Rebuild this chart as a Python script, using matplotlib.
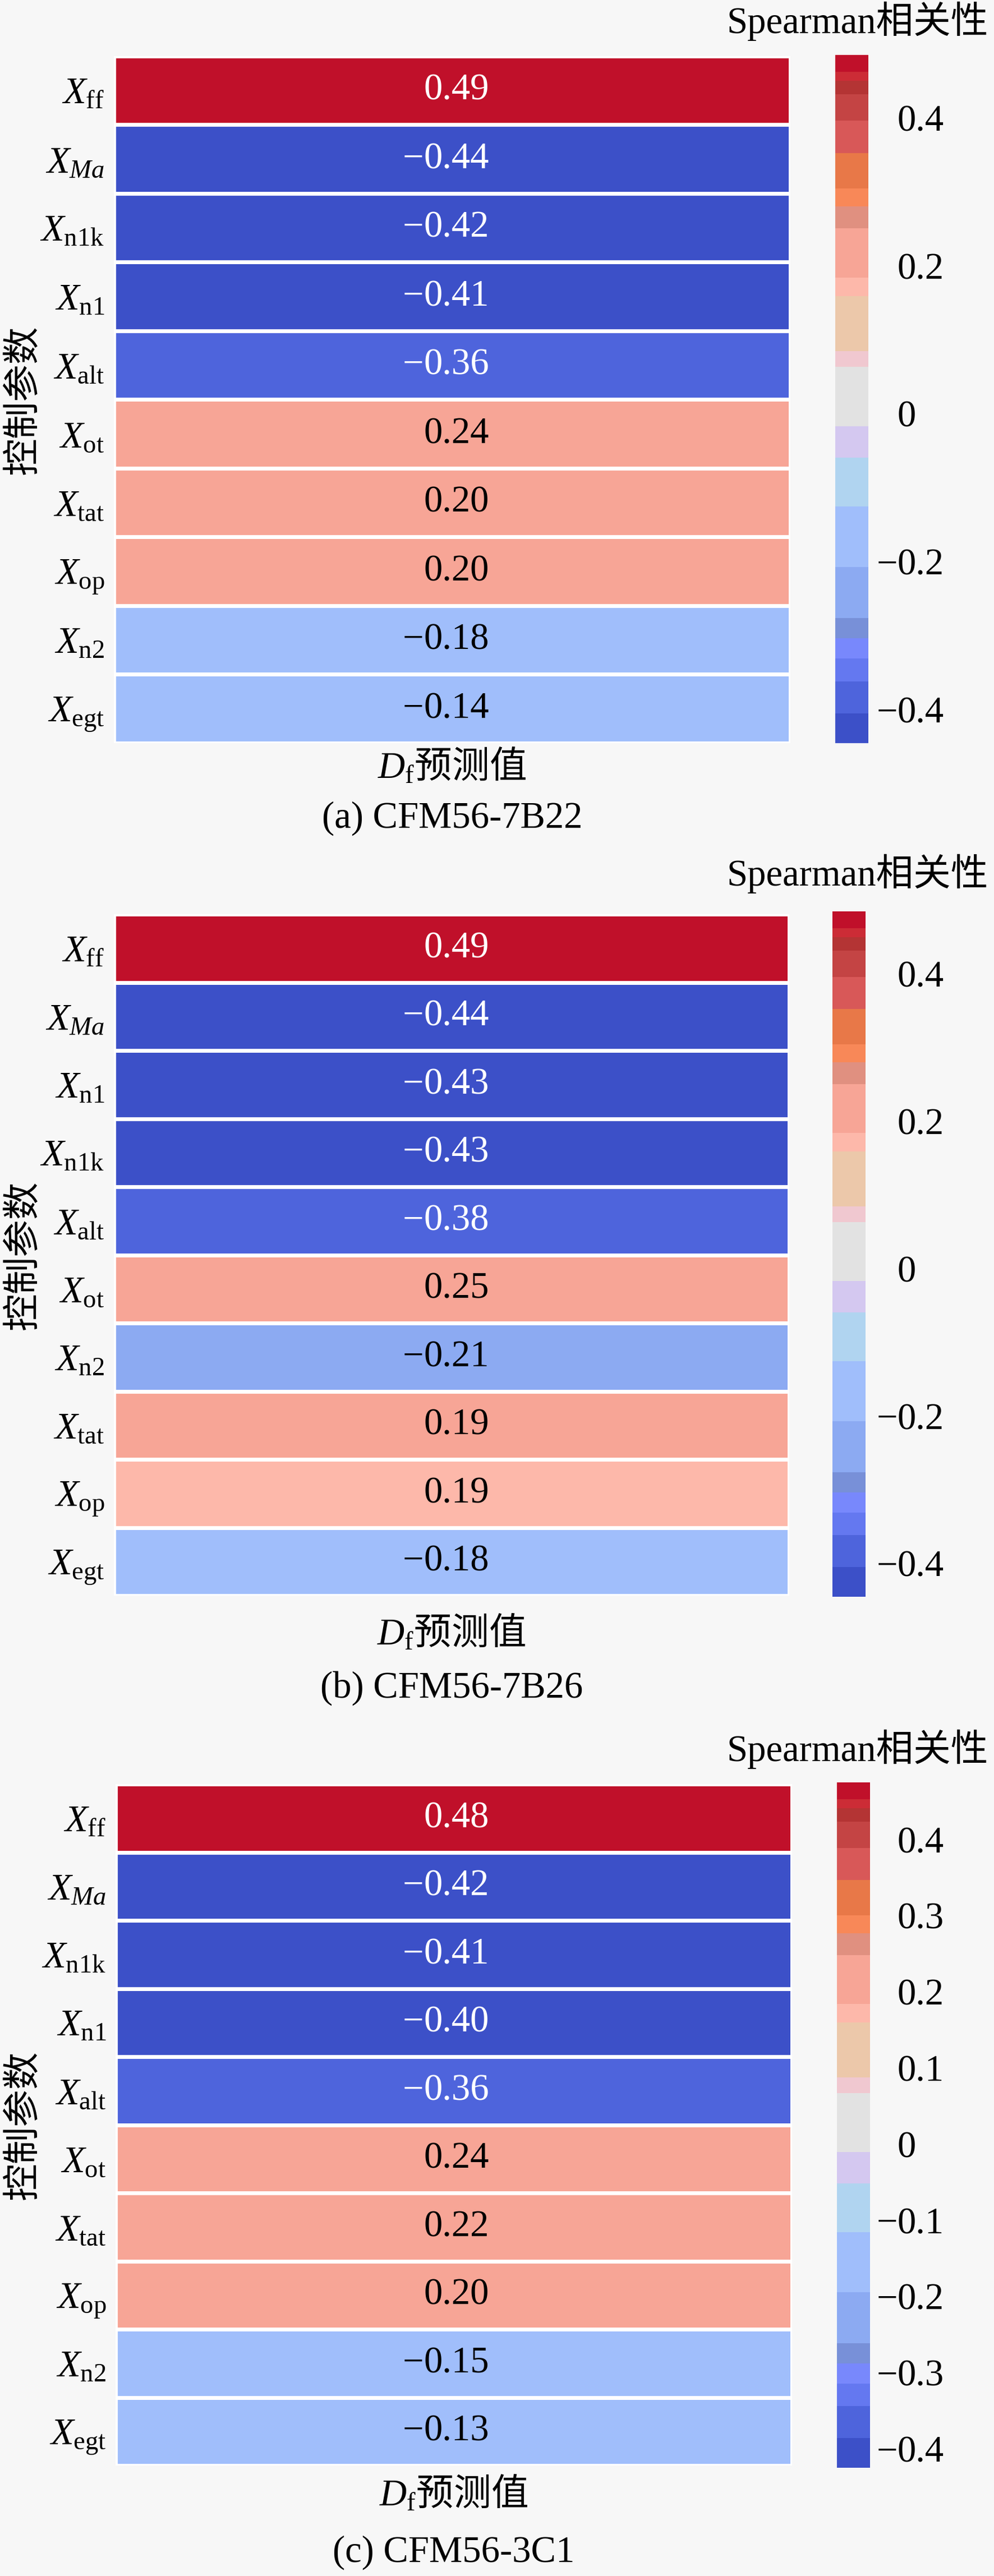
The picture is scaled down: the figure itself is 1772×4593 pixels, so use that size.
import matplotlib
matplotlib.use("Agg")
import matplotlib.pyplot as plt
import numpy as np
from matplotlib.colors import ListedColormap, to_rgb
from matplotlib.transforms import blended_transform_factory

# fonts: Times-like serif for latin, CJK for Chinese
plt.rcParams['font.family'] = ['Liberation Serif', 'Noto Sans CJK SC']
plt.rcParams['mathtext.fontset'] = 'custom'
plt.rcParams['mathtext.rm'] = 'Liberation Serif'
plt.rcParams['mathtext.it'] = 'Liberation Serif:italic'

# data
labels_a = ['ff', 'Ma', 'n1k', 'n1', 'alt', 'ot', 'tat', 'op', 'n2', 'egt']
values_a = [0.49, -0.44, -0.42, -0.41, -0.36, 0.24, 0.20, 0.20, -0.18, -0.14]

labels_b = ['ff', 'Ma', 'n1', 'n1k', 'alt', 'ot', 'n2', 'tat', 'op', 'egt']
values_b = [0.49, -0.44, -0.43, -0.43, -0.38, 0.25, -0.21, 0.194, 0.186, -0.18]

labels_c = ['ff', 'Ma', 'n1k', 'n1', 'alt', 'ot', 'tat', 'op', 'n2', 'egt']
values_c = [0.48, -0.42, -0.41, -0.40, -0.36, 0.24, 0.22, 0.20, -0.15, -0.13]

captions = ['(a) CFM56-7B22', '(b) CFM56-7B26', '(c) CFM56-3C1']
cbar_ticks_a = [-0.4, -0.2, 0, 0.2, 0.4]
cbar_ticks_b = [-0.4, -0.2, 0, 0.2, 0.4]
cbar_ticks_c = [-0.4, -0.3, -0.2, -0.1, 0, 0.1, 0.2, 0.3, 0.4]

W, H = 1772, 4593
FS = 48
BG = '#f7f7f7'

# stepped coolwarm-like palette, as it appears in the colour bar (top -> bottom, px)
block_edges = [98, 128, 144, 168, 215, 273, 336, 368, 407, 495, 528, 626,
               654, 760, 816, 903, 1011, 1102, 1138, 1174, 1215, 1272, 1325]
block_colors = ['#C0102A', '#CC2C36', '#B43434', '#C44444', '#D85858',
                '#E87848', '#F88858', '#E09080', '#F7A596', '#FDB8AA',
                '#ECC8AA', '#F0C8D0', '#E2E2E2', '#D4C8F0', '#B0D4F0',
                '#A0BEFB', '#8CAAF2', '#7890D8', '#7888FC', '#6478F0',
                '#4E64DC', '#3C50C8']
N = 1227
ys = block_edges[-1] - (np.arange(N) + 0.5) / N * (block_edges[-1] - block_edges[0])
idx = np.clip(np.searchsorted(block_edges, ys) - 1, 0, len(block_colors) - 1)
cmap = ListedColormap([to_rgb(block_colors[i]) for i in idx])

# pixel boxes: heatmap (l, t, r, b), colorbar (l, t, r, b), title y, xlabel y, caption y
layout = [
    ((203, 100, 1409, 1325), (1489, 98, 1548, 1325), 38, 1368, 1459),
    ((203, 1630, 1407, 2845), (1484, 1625, 1543, 2847), 1558, 2913, 3010),
    ((206, 3181, 1412, 4396), (1492, 3178, 1551, 4400), 3119, 4448, 4551),
]


def box(l, t, r, b):
    return [l / W, 1 - b / H, (r - l) / W, (b - t) / H]


def sublabel(s):
    if s == 'Ma':
        return r'$X_{Ma}$'
    return r'$X_{\mathrm{%s}}$' % s


def luminance(c):
    rgb = np.array(c[:3])
    rgb = np.where(rgb <= .03928, rgb / 12.92, ((rgb + .055) / 1.055) ** 2.4)
    return rgb.dot([.2126, .7152, .0722])


def tick_fmt(t):
    if abs(t) < 1e-9:
        return '0'
    return '%.1f' % abs(t)


fig = plt.figure(figsize=(W / 100, H / 100), dpi=100, facecolor=BG)

panels = [(labels_a, values_a, cbar_ticks_a),
          (labels_b, values_b, cbar_ticks_b),
          (labels_c, values_c, cbar_ticks_c)]

for (labels, values, ticks), cap, (hb, cb, ty, xy, cy) in zip(panels, captions, layout):
    ax = fig.add_axes(box(*hb))
    cax = fig.add_axes(box(*cb))
    ax.set_facecolor(BG)

    data = np.array(values).reshape(-1, 1)
    vmin, vmax = data.min(), data.max()
    mesh = ax.pcolormesh(data, cmap=cmap, vmin=vmin, vmax=vmax,
                         edgecolors='white', linewidth=5)
    ax.set_xlim(0, 1)
    ax.set_ylim(len(values), 0)
    for sp in ax.spines.values():
        sp.set_visible(False)

    ax.set_xticks([])
    ax.set_yticks(np.arange(len(labels)) + 0.5)
    ax.set_yticklabels([sublabel(s) for s in labels], fontsize=FS)
    ax.tick_params(axis='y', length=0, pad=12)

    # cell values: digits start at a fixed x, minus sign hangs to the left
    x0 = (755 - hb[0]) / (hb[2] - hb[0])
    norm = mesh.norm
    for i, v in enumerate(values):
        tc = 'white' if luminance(cmap(norm(v))) < .3 else 'black'
        ax.text(x0, i + 0.5, '%.2f' % abs(v), ha='left', va='center',
                fontsize=FS, color=tc)
        if v < 0:
            ax.text(x0, i + 0.5, '\u2212', ha='right', va='center',
                    fontsize=FS, color=tc)

    cbar = fig.colorbar(mesh, cax=cax)
    cbar.outline.set_visible(False)
    cbar.set_ticks(ticks)
    cax.set_yticklabels([])
    cax.tick_params(length=0)
    tr = blended_transform_factory(fig.transFigure, cax.transData)
    for t in ticks:
        cax.text(1600 / W, t, tick_fmt(t), transform=tr, ha='left',
                 va='center', fontsize=FS)
        if t < 0:
            cax.text(1600 / W, t, '\u2212', transform=tr, ha='right',
                     va='center', fontsize=FS)

    cx = (hb[0] + hb[2]) / 2 / W
    fig.text(1762 / W, 1 - ty / H, 'Spearman相关性', ha='right', va='center',
             fontsize=FS)
    fig.text(cx, 1 - xy / H, r'$D_{\mathrm{f}}$预测值', ha='center',
             va='center', fontsize=FS, family='Noto Sans CJK SC')
    fig.text(cx, 1 - cy / H, cap, ha='center', va='center', fontsize=FS)
    fig.text(40 / W, 1 - (hb[1] + hb[3]) / 2 / H, '控制参数', rotation=90,
             ha='center', va='center', fontsize=FS, family='Noto Sans CJK SC')

fig.savefig('out.png', dpi=100, facecolor=BG)
